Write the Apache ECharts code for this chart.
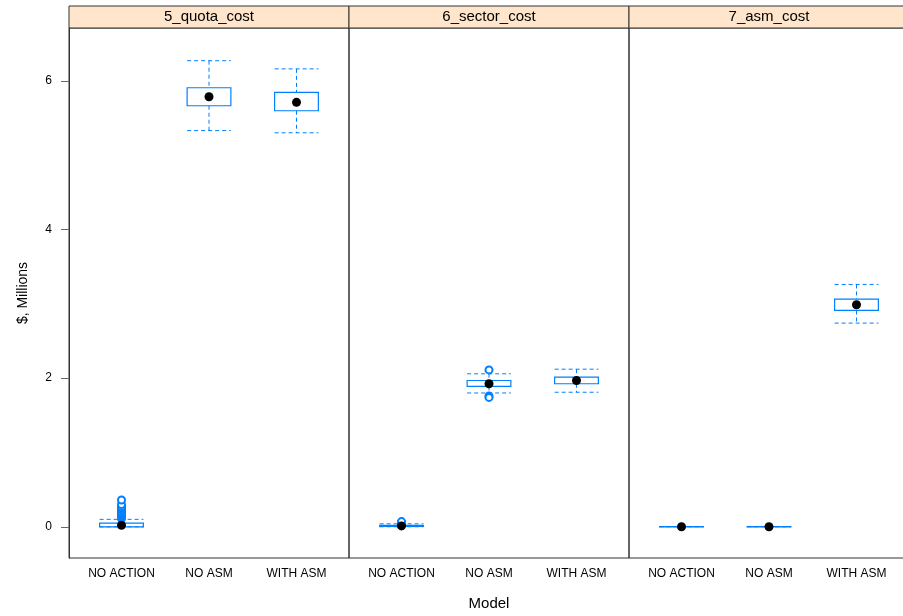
<!DOCTYPE html>
<html>
<head>
<meta charset="utf-8">
<script src="https://cdn.jsdelivr.net/npm/echarts@6/dist/echarts.min.js"></script>
<style>
  html, body { margin: 0; padding: 0; background: #fff; }
  #chart { width: 903px; height: 616px; }
</style>
</head>
<body>
<div id="chart"></div>
<script>
const panels = ['5_quota_cost', '6_sector_cost', '7_asm_cost']
const models = ['NO ACTION', 'NO ASM', 'WITH ASM']

// [lower whisker, Q1, median, Q3, upper whisker] per model
const quotaBoxes = [
    [0.0, 0.0, 0.02, 0.05, 0.10],
    [5.33, 5.664, 5.785, 5.906, 6.27],
    [5.30, 5.597, 5.71, 5.843, 6.16]
]
const sectorBoxes = [
    [0.0, 0.005, 0.012, 0.02, 0.04],
    [1.80, 1.888, 1.924, 1.968, 2.058],
    [1.81, 1.924, 1.968, 2.014, 2.12]
]
const asmBoxes = [
    [0.0, 0.0, 0.0, 0.002, 0.004],
    [0.0, 0.0, 0.0, 0.002, 0.004],
    [2.74, 2.91, 2.987, 3.063, 3.26]
]

// outliers: [model index (1-based), value]
const quotaOutliers = [
    [1, 0.11], [1, 0.12], [1, 0.13], [1, 0.14], [1, 0.15], [1, 0.16], [1, 0.17],
    [1, 0.18], [1, 0.19], [1, 0.20], [1, 0.21], [1, 0.23], [1, 0.25], [1, 0.27],
    [1, 0.30], [1, 0.36]
]
const sectorOutliers = [
    [1, 0.05], [1, 0.06], [1, 0.07],
    [2, 2.11], [2, 1.76], [2, 1.74]
]
const asmOutliers = []

const yTicks = [0, 2, 4, 6]

const allBoxes = [quotaBoxes, sectorBoxes, asmBoxes]
const allOutliers = [quotaOutliers, sectorOutliers, asmOutliers]

const blue = '#0080ff'
const gridLeft = 69
const gridW = 280
const gridTop = 28
const gridH = 530

const chart = echarts.init(document.getElementById('chart'))

const renderBox = (params, api) => {
    const x = api.value(0)
    const lo = api.coord([x, api.value(1)])
    const q1 = api.coord([x, api.value(2)])
    const q3 = api.coord([x, api.value(4)])
    const hi = api.coord([x, api.value(5)])
    const half = api.size([0.25, 0])[0]
    const cx = lo[0]
    const dash = { stroke: blue, lineWidth: 1, lineDash: [4, 3] }
    return {
        type: 'group',
        children: [
            { type: 'line', shape: { x1: cx, y1: hi[1], x2: cx, y2: q3[1] }, style: dash },
            { type: 'line', shape: { x1: cx, y1: q1[1], x2: cx, y2: lo[1] }, style: dash },
            { type: 'line', shape: { x1: cx - half, y1: hi[1], x2: cx + half, y2: hi[1] }, style: dash },
            { type: 'line', shape: { x1: cx - half, y1: lo[1], x2: cx + half, y2: lo[1] }, style: dash },
            {
                type: 'rect',
                shape: { x: cx - half, y: q3[1], width: half * 2, height: q1[1] - q3[1] },
                style: { stroke: blue, fill: null, lineWidth: 1.2 }
            }
        ]
    }
}

const grids = [], xAxes = [], yAxes = [], series = [], graphics = []

panels.forEach((name, i) => {
    grids.push({
        left: gridLeft + i * gridW, top: gridTop, width: gridW, height: gridH,
        outerBoundsMode: 'none', containLabel: false,
        show: true, borderColor: '#333', borderWidth: 1, backgroundColor: 'transparent'
    })
    xAxes.push({
        gridIndex: i, type: 'value', min: 0.4, max: 3.6,
        splitLine: { show: false },
        axisLine: { show: false },
        axisTick: { show: false },
        axisLabel: {
            customValues: [1, 2, 3],
            formatter: v => models[Math.round(v) - 1] || '',
            color: '#000', fontSize: 12, margin: 10, fontFamily: 'Liberation Sans'
        },
        name: i === 1 ? 'Model' : '',
        nameLocation: 'middle', nameGap: 38,
        nameTextStyle: { color: '#000', fontSize: 15, fontFamily: 'Liberation Sans' }
    })
    yAxes.push({
        gridIndex: i, type: 'value', min: -0.42, max: 6.71,
        splitLine: { show: false },
        axisLine: { show: i === 0, lineStyle: { color: '#333' } },
        axisTick: { show: i === 0, length: 8, lineStyle: { color: '#666' }, customValues: yTicks },
        axisLabel: {
            show: i === 0, customValues: yTicks, color: '#000', fontSize: 12,
            margin: 17, fontFamily: 'Liberation Sans'
        },
        name: i === 0 ? '$, Millions' : '',
        nameLocation: 'middle', nameGap: 39, nameRotate: 90,
        nameTextStyle: { color: '#000', fontSize: 14, fontFamily: 'Liberation Sans' }
    })
    const boxData = allBoxes[i].map((b, k) => [k + 1].concat(b))
    series.push({
        type: 'custom', xAxisIndex: i, yAxisIndex: i,
        renderItem: renderBox, data: boxData, silent: true, z: 2
    })
    series.push({
        type: 'scatter', xAxisIndex: i, yAxisIndex: i,
        symbol: 'emptyCircle', symbolSize: 7,
        itemStyle: { color: blue, borderColor: blue, borderWidth: 1.5, opacity: 1 },
        data: allOutliers[i], z: 3, silent: true
    })
    series.push({
        type: 'scatter', xAxisIndex: i, yAxisIndex: i,
        symbol: 'circle', symbolSize: 9,
        itemStyle: { color: '#000', opacity: 1 },
        data: allBoxes[i].map((b, k) => [k + 1, b[2]]), z: 4, silent: true
    })
    graphics.push({
        type: 'rect',
        shape: { x: gridLeft + i * gridW, y: 6, width: gridW, height: gridTop - 6 },
        style: { fill: '#ffe5cc', stroke: '#333', lineWidth: 1 }
    })
    graphics.push({
        type: 'text',
        x: gridLeft + i * gridW + gridW / 2, y: 17,
        style: {
            text: name, fill: '#000', font: '15px "Liberation Sans"',
            align: 'center', verticalAlign: 'middle'
        }
    })
})

chart.setOption({
    animation: false,
    grid: grids,
    xAxis: xAxes,
    yAxis: yAxes,
    series: series,
    graphic: graphics
})
</script>
</body>
</html>
